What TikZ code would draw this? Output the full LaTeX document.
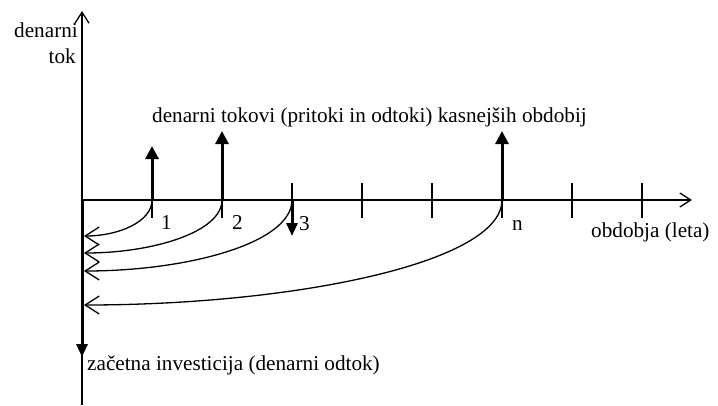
\documentclass[tikz,border=0pt]{standalone}
\usepackage{fontspec}
\setmainfont{Liberation Serif}
\usetikzlibrary{arrows.meta}
\begin{document}
\begin{tikzpicture}[x=1pt,y=-1pt,
  axis/.style={line width=1.3pt,-{Straight Barb[length=11pt,width=14pt,line width=1.3pt]}},
  tickmark/.style={line width=1.3pt},
  flowup/.style={line width=3pt,-{Triangle[length=13pt,width=13pt]}},
  flowdn/.style={line width=3pt,-{Triangle[length=13pt,width=11pt]}},
  disc/.style={line width=1.3pt,-{Straight Barb[length=14pt,width=18pt,line width=1.3pt]}},
  lbl/.style={font=\fontsize{21.2}{24}\selectfont,inner sep=0pt}]
\useasboundingbox (0,0) rectangle (718,405);
\coordinate (O) at (82,200);
\coordinate (ytop) at (82,11);
\coordinate (ybot) at (82,405);
\coordinate (xend) at (692,200);
\draw[axis] (ybot) -- (ytop);
\draw[axis] (O) -- (xend);
\foreach \i in {1,...,8} {
  \coordinate (t\i) at (82+70*\i,200);
  \draw[tickmark] ([yshift=17pt]t\i) -- ([yshift=-18pt]t\i);
}
% cash flows
\coordinate (u1) at (152,146);
\coordinate (u2) at (222,131);
\coordinate (un) at (502,131);
\coordinate (d3) at (292,236);
\coordinate (inv) at (82,357);
\draw[flowup] (t1) -- (u1);
\draw[flowup] (t2) -- (u2);
\draw[flowup] (t6) -- (un);
\draw[flowdn] (t3) -- (d3);
\draw[flowdn] (O) -- (inv);
% discounting arrows
\coordinate (e1) at (84,236);
\coordinate (e2) at (84,253);
\coordinate (e3) at (84,271);
\coordinate (en) at (84,305);
\draw[disc] (t1) .. controls (152,222) and (118,236) .. (e1);
\draw[disc] (t2) .. controls (222,232) and (153,253) .. (e2);
\draw[disc] (t3) .. controls (292,243) and (188,271) .. (e3);
\draw[disc] (t6) .. controls (502,263) and (293,305) .. (en);
% labels
\node[lbl,anchor=base east] (yl1) at (78,37) {denarni};
\node[lbl,anchor=base east] (yl2) at (76,63) {tok};
\node[lbl,anchor=base west] (top) at (152,122) {denarni tokovi (pritoki in odtoki) kasnejših obdobij};
\node[lbl,anchor=base west] (l1) at (161,229) {1};
\node[lbl,anchor=base west] (l2) at (232,229) {2};
\node[lbl,anchor=base west] (l3) at (299,230) {3};
\node[lbl,anchor=base west] (ln) at (512,230) {n};
\node[lbl,anchor=base west] (xl) at (591,237) {obdobja (leta)};
\node[lbl,anchor=base west] (il) at (87,370) {začetna investicija (denarni odtok)};
\end{tikzpicture}
\end{document}
